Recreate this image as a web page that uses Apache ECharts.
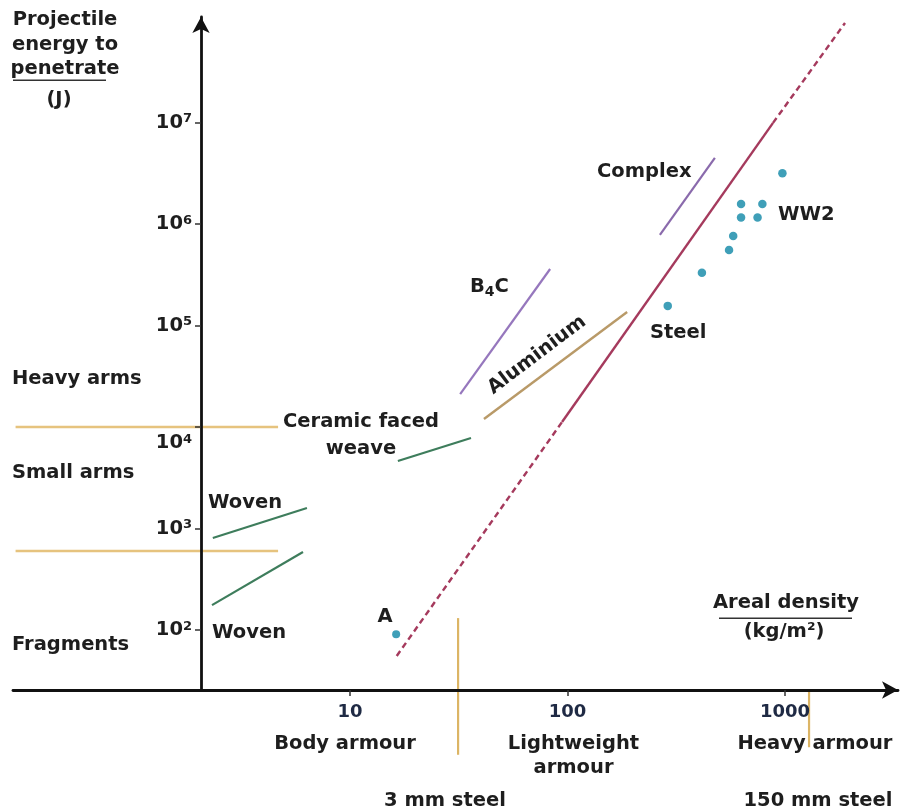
<!DOCTYPE html>
<html>
<head>
<meta charset="utf-8">
<script src="https://cdn.jsdelivr.net/npm/echarts@6/dist/echarts.min.js"></script>
<style>
  html, body { margin: 0; padding: 0; background: #fff; }
  #chart { width: 906px; height: 812px; }
</style>
</head>
<body>
<div id="chart"></div>
<script>
// Armour performance: areal density (kg/m²) against projectile energy to penetrate (J), log-log.

// Axis ticks and captions
const xTickValues = [10, 100, 1000];
const xTickCaptions = ['Body armour', 'Lightweight\narmour', 'Heavy armour'];
const yTickValues = [1e2, 1e3, 1e4, 1e5, 1e6, 1e7];

// Threat band boundaries (horizontal) and steel thickness markers (vertical)
const heavySmallBoundary = [[0.29, 1e4], [4.67, 1e4]];
const smallFragmentBoundary = [[0.29, 600], [4.67, 600]];
const steel3mm = [[31.4, 131], [31.4, 5.9]];
const steel150mm = [[1290, 25.6], [1290, 7.0]];

// Armour families
const wovenUpper = [[2.34, 806], [6.34, 1590]];
const wovenLower = [[2.32, 176], [6.08, 586]];
const ceramicFacedWeave = [[16.6, 4620], [36.0, 7800]];
const b4c = [[32.1, 21100], [83.2, 360000]];
const aluminium = [[41.3, 12000], [188, 136000]];
const complexArmour = [[266, 780000], [476, 4470000]];

// Steel trend line (extrapolated ends dashed)
const steelTrendLow = [[16.4, 55.5], [94.4, 11200]];
const steelTrendMid = [[94.4, 11200], [881, 9.9e6]];
const steelTrendHigh = [[881, 9.9e6], [1888, 9.55e7]];

// Steel / WW2 armour measurements and point A
const steelWW2Points = [
  [289, 1.56e5], [415, 3.31e5], [553, 5.55e5], [578, 7.62e5],
  [628, 1.16e6], [748, 1.16e6], [628, 1.57e6], [787, 1.57e6], [973, 3.16e6]
];
const pointA = [[16.3, 90.8]];

const FONT = 'DejaVu Sans';
const INK = '#1e1e1e';
const ORANGE = '#e6c37e';
const GREEN = '#3e7d5c';
const PURPLE = '#9677bd';
const TAN = '#b99a68';
const CRIMSON = '#a53a5d';
const TEAL = '#0f87a6';

function segment(name, data, color, width, dash) {
  return {
    name, type: 'line', data, symbol: 'none', silent: true, clip: false,
    animation: false,
    lineStyle: { color, width, type: dash || 'solid', cap: 'butt' }
  };
}

function label(text, x, y, align, extra) {
  return Object.assign({
    type: 'text', x, y, silent: true,
    style: {
      text, fill: INK, fontFamily: FONT, fontWeight: 'bold', fontSize: 19.5,
      align: align || 'left', textAlign: align || 'left',
      verticalAlign: 'middle', textVerticalAlign: 'middle'
    }
  }, extra || {});
}

const textBase = { fontFamily: FONT, fontWeight: 'bold', color: INK };

const xRich = {
  n: { fontFamily: FONT, fontWeight: 'bold', fontSize: 18, color: '#1f2a44', lineHeight: 40 },
  c0: Object.assign({ fontSize: 19.5, lineHeight: 24, padding: [0, 10, 0, 0] }, textBase),
  c1: Object.assign({ fontSize: 19.5, lineHeight: 24, padding: [0, 0, 0, 12] }, textBase),
  c2: Object.assign({ fontSize: 19.5, lineHeight: 24, padding: [0, 0, 0, 60] }, textBase)
};

const yRich = {
  b: Object.assign({ fontSize: 19.5, lineHeight: 20 }, textBase),
  s: Object.assign({ fontSize: 13, lineHeight: 14, verticalAlign: 'top' }, textBase),
  g: { fontSize: 10, lineHeight: 32 }
};

const chart = echarts.init(document.getElementById('chart'), null, { renderer: 'canvas' });

chart.setOption({
  animation: false,
  backgroundColor: '#ffffff',
  grid: { left: 13, right: 8, top: 17, bottom: 122, outerBoundsMode: 'none', containLabel: false },
  xAxis: {
    type: 'log', logBase: 10, min: 0.2822, max: 3308, z: 5,
    axisLine: { show: true, symbol: ['none', 'arrow'], symbolSize: [13, 16],
      lineStyle: { color: '#111', width: 2.8 } },
    axisTick: { show: true, length: 6, customValues: xTickValues,
      lineStyle: { color: '#333', width: 1.5 } },
    splitLine: { show: false },
    minorTick: { show: false },
    axisLabel: {
      customValues: xTickValues, margin: 2, hideOverlap: false,
      formatter: function (v) {
        let i = 0, best = Infinity;
        xTickValues.forEach(function (t, k) {
          const d = Math.abs(Math.log10(t) - Math.log10(v));
          if (d < best) { best = d; i = k; }
        });
        const caption = xTickCaptions[i].split('\n').map(function (s) {
          return '{c' + i + '|' + s + '}';
        }).join('\n');
        return '{n|' + xTickValues[i] + '}\n' + caption;
      },
      rich: xRich
    }
  },
  yAxis: {
    type: 'log', logBase: 10, min: 25.64, max: 1.094e8, offset: -188, z: 5,
    axisLine: { show: true, symbol: ['none', 'arrow'], symbolSize: [13, 16],
      lineStyle: { color: '#111', width: 2.8 } },
    axisTick: { show: true, length: 6, customValues: yTickValues,
      lineStyle: { color: '#333', width: 1.5 } },
    splitLine: { show: false },
    minorTick: { show: false },
    axisLabel: {
      customValues: yTickValues, margin: 9, hideOverlap: false,
      formatter: function (v) {
        const e = Math.round(Math.log10(v));
        const core = '{b|10}{s|' + e + '}';
        return e === 4 ? '{g| }\n' + core : core;
      },
      rich: yRich
    }
  },
  series: [
    segment('Heavy / small arms', heavySmallBoundary, ORANGE, 2.5),
    segment('Small arms / fragments', smallFragmentBoundary, ORANGE, 2.5),
    segment('3 mm steel', steel3mm, '#dcb565', 2.2),
    segment('150 mm steel', steel150mm, '#dcb565', 2.2),
    segment('Woven', wovenUpper, GREEN, 2.2),
    segment('Woven', wovenLower, GREEN, 2.2),
    segment('Ceramic faced weave', ceramicFacedWeave, GREEN, 2.2),
    segment('B4C', b4c, PURPLE, 2.2),
    segment('Aluminium', aluminium, TAN, 2.4),
    segment('Complex', complexArmour, '#8a6aac', 2.2),
    segment('Steel', steelTrendLow, CRIMSON, 2.4, [6, 4]),
    segment('Steel', steelTrendMid, CRIMSON, 2.4),
    segment('Steel', steelTrendHigh, CRIMSON, 2.4, [6, 4]),
    {
      name: 'Steel / WW2', type: 'scatter', data: steelWW2Points, symbol: 'circle',
      symbolSize: 8.5, silent: true, itemStyle: { color: TEAL }
    },
    {
      name: 'A', type: 'scatter', data: pointA, symbol: 'circle',
      symbolSize: 8, silent: true, itemStyle: { color: TEAL }
    }
  ],
  graphic: {
    elements: [
      // vertical axis title
      label('Projectile\nenergy to\npenetrate', 65, 7.75, 'center',
        { style: { text: 'Projectile\nenergy to\npenetrate', fill: INK, fontFamily: FONT,
          fontWeight: 'bold', fontSize: 19.5, lineHeight: 24.5,
          align: 'center', textAlign: 'center', verticalAlign: 'top', textVerticalAlign: 'top' } }),
      { type: 'rect', silent: true, shape: { x: 13, y: 79.5, width: 93, height: 1.6 }, style: { fill: '#333' } },
      label('(J)', 59, 100, 'center'),

      // horizontal axis title
      label('Areal density', 786, 603, 'center'),
      { type: 'rect', silent: true, shape: { x: 719, y: 617.5, width: 133, height: 1.6 }, style: { fill: '#333' } },
      label('(kg/m²)', 784, 632, 'center'),

      // threat bands
      label('Heavy arms', 12, 379),
      label('Small arms', 12, 473),
      label('Fragments', 12, 645),

      // armour family annotations
      label('Woven', 208, 503),
      label('Woven', 212, 633),
      label('A', 385, 617, 'center'),
      label('Ceramic faced\nweave', 361, 435.5, 'center',
        { style: { text: 'Ceramic faced\nweave', fill: INK, fontFamily: FONT, fontWeight: 'bold',
          fontSize: 19.5, lineHeight: 27, align: 'center', textAlign: 'center',
          verticalAlign: 'middle', textVerticalAlign: 'middle' } }),
      {
        type: 'text', x: 470, y: 287, silent: true,
        style: {
          text: '{m|B}{s|4}{m|C}', align: 'left', textAlign: 'left',
          verticalAlign: 'middle', textVerticalAlign: 'middle',
          rich: {
            m: { fontFamily: FONT, fontWeight: 'bold', fontSize: 19.5, lineHeight: 24, fill: INK, color: INK },
            s: { fontFamily: FONT, fontWeight: 'bold', fontSize: 14, lineHeight: 10, verticalAlign: 'bottom', fill: INK, color: INK }
          }
        }
      },
      label('Aluminium', 537, 355, 'center', { rotation: 37 * Math.PI / 180 }),
      label('Complex', 597, 172),
      label('WW2', 778, 215),
      label('Steel', 650, 333),

      // steel thickness captions
      label('3 mm steel', 445, 801, 'center'),
      label('150 mm steel', 818, 801, 'center')
    ]
  }
});
</script>
</body>
</html>
